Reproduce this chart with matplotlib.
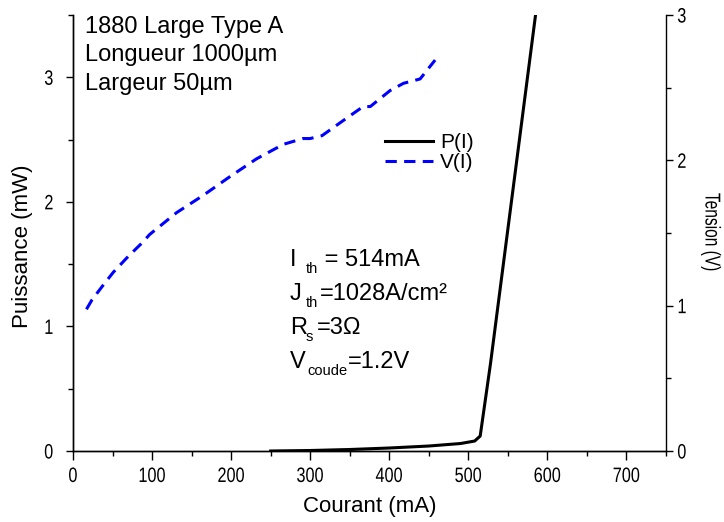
import matplotlib
matplotlib.use("Agg")
import matplotlib.pyplot as plt
from matplotlib.ticker import MultipleLocator
from matplotlib.patheffects import AbstractPathEffect
from matplotlib.transforms import Affine2D

# ---- data ----
current_P = [250, 300, 350, 400, 450, 490, 508, 515, 528, 585]
power_mW = [0.0, 0.004, 0.012, 0.024, 0.040, 0.060, 0.080, 0.12, 0.70, 3.50]

current_V = [17, 24, 38, 51, 70, 87, 97, 131, 165, 199, 232, 266, 291, 300, 315,
             346, 367, 376, 401, 418, 439, 458]
voltage_V = [0.975, 1.04, 1.14, 1.23, 1.34, 1.43, 1.49, 1.64, 1.76, 1.89, 2.01, 2.11,
             2.15, 2.15, 2.17, 2.29, 2.37, 2.37, 2.48, 2.53, 2.56, 2.69]

x_ticks = [0, 100, 200, 300, 400, 500, 600, 700]
left_ticks = [0, 1, 2, 3]
right_ticks = [0, 1, 2, 3]

info_lines = ["1880 Large Type A", "Longueur 1000µm", "Largeur 50µm"]
# (main symbol, subscript, rest)
param_lines = [("I", "th", " = 514mA"),
               ("J", "th", "=1028A/cm²"),
               ("R", "s", "=3Ω"),
               ("V", "coude", "=1.2V")]

plt.rcParams['font.family'] = ['Liberation Sans', 'DejaVu Sans']


class Stretch(AbstractPathEffect):
    """Condense/stretch a text path around an anchor (keeps it a real text)."""

    def __init__(self, sx=1.0, sy=1.0, ax_anchor='center', ay_anchor='center'):
        super().__init__()
        self.sx, self.sy = sx, sy
        self.axa, self.aya = ax_anchor, ay_anchor

    def draw_path(self, renderer, gc, tpath, affine, rgbFace=None):
        ext = tpath.get_extents(affine)
        cx = {'left': ext.x0, 'right': ext.x1}.get(self.axa, (ext.x0 + ext.x1) / 2)
        cy = {'bottom': ext.y0, 'top': ext.y1}.get(self.aya, (ext.y0 + ext.y1) / 2)
        t = affine + Affine2D().translate(-cx, -cy).scale(self.sx, self.sy).translate(cx, cy)
        renderer.draw_path(gc, tpath, t, rgbFace)


W, H = 724, 522
fig = plt.figure(figsize=(W / 100, H / 100), dpi=100)
ax = fig.add_axes([73 / W, 71 / H, 593 / W, 436 / H])
ax2 = ax.twinx()

lp, = ax.plot(current_P, power_mW, color='black', lw=2.2, solid_joinstyle='round', label='P(I)')
lv, = ax2.plot(current_V, voltage_V, color='#0000ff', lw=2.2, label='V(I)')
lv.set_dashes([3.7, 2.4])

ax.set_xlim(0, 750)
ax.set_ylim(0, 3.5)
ax2.set_ylim(0, 3)

ax.set_xticks(x_ticks)
ax.xaxis.set_minor_locator(MultipleLocator(50))
ax.set_yticks(left_ticks)
ax.yaxis.set_minor_locator(MultipleLocator(0.5))
ax2.set_yticks(right_ticks)
ax2.yaxis.set_minor_locator(MultipleLocator(0.5))

for a in (ax, ax2):
    a.spines['top'].set_visible(False)
    for s in a.spines.values():
        s.set_linewidth(1.0)
ax.spines['right'].set_visible(False)

ax.tick_params(axis='x', which='major', direction='out', length=6.5, width=1.0, pad=5)
ax.tick_params(axis='x', which='minor', direction='out', length=3.5, width=1.0)
ax.tick_params(axis='y', which='major', direction='out', length=5, width=1.0, pad=9)
ax.tick_params(axis='y', which='minor', direction='out', length=3.5, width=1.0)
ax2.tick_params(axis='y', which='major', direction='out', length=5, width=1.0, pad=3)
ax2.tick_params(axis='y', which='minor', direction='out', length=3.5, width=1.0)

for lab in ax.get_xticklabels():
    lab.set_fontsize(15)
    lab.set_path_effects([Stretch(0.78, 1.0, 'center')])
for lab in ax.get_yticklabels():
    lab.set_fontsize(15)
    lab.set_path_effects([Stretch(0.78, 1.0, 'right')])
for lab in ax2.get_yticklabels():
    lab.set_fontsize(15)
    lab.set_path_effects([Stretch(0.78, 1.0, 'left')])

ax.set_xlabel("Courant (mA)", fontsize=16, va='baseline')
ax.xaxis.set_label_coords(0.5, (451 - 512) / 436)
ax.set_ylabel("Puissance (mW)", fontsize=16, va='center')
ax.yaxis.set_label_coords((23 - 73) / 593, (451 - 246) / 436)
ylab2 = ax2.set_ylabel("Tension (V)", fontsize=15.5, rotation=270, va='center')
ax2.yaxis.set_label_coords((711 - 73) / 593, (451 - 232) / 436)
ylab2.set_path_effects([Stretch(1.0, 0.72, 'center', 'center')])

leg = ax2.legend(handles=[lp, lv], loc='upper left', frameon=False,
                 bbox_to_anchor=((385 - 73) / 593, (451 - 133) / 436),
                 borderpad=0, borderaxespad=0, fontsize=15,
                 handlelength=2.3, handletextpad=0.35, labelspacing=0.04)

for i, t in enumerate(info_lines):
    fig.text(85 / W, 1 - (33 + 28.5 * i) / H, t, fontsize=17, va='baseline', ha='left')

# parameter block: main letter, subscript, remainder (pixel layout from reference)
main_base = [266, 300, 334, 368]
sub_drop = 7
sub_x = [306, 306, 306, 307]
rest_x = [318, 320, 317, 348]
for (m, s, r), yb, xs, xr in zip(param_lines, main_base, sub_x, rest_x):
    fig.text(290 / W, 1 - yb / H, m, fontsize=17, va='baseline', ha='left')
    fig.text(xs / W, 1 - (yb + sub_drop) / H, s, fontsize=10.5, va='baseline', ha='left')
    fig.text(xr / W, 1 - yb / H, r, fontsize=17, va='baseline', ha='left')

fig.savefig("out.png", dpi=100)
